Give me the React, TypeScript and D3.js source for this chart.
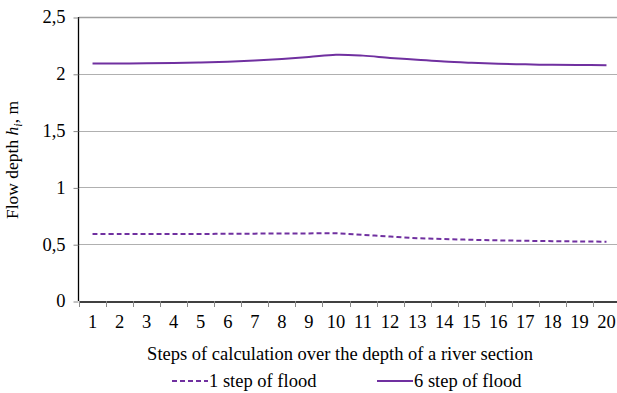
import React, { useEffect, useRef } from 'react';
import * as d3 from 'd3';

const steps = [1, 2, 3, 4, 5, 6, 7, 8, 9, 10, 11, 12, 13, 14, 15, 16, 17, 18, 19, 20];
const flood1 = [0.59, 0.59, 0.59, 0.59, 0.59, 0.592, 0.593, 0.594, 0.595, 0.596, 0.582, 0.567, 0.553, 0.545, 0.539, 0.534, 0.53, 0.527, 0.524, 0.522];
const flood6 = [2.09, 2.09, 2.092, 2.095, 2.1, 2.107, 2.117, 2.13, 2.147, 2.168, 2.16, 2.14, 2.124, 2.108, 2.097, 2.088, 2.083, 2.079, 2.077, 2.076];
const yTicks = [0, 0.5, 1, 1.5, 2, 2.5];

const W = 617;
const H = 393;
const margin = { top: 17, right: -3, bottom: 92, left: 79 };
const color = '#7030a0';
const font = "'Liberation Serif', 'DejaVu Serif', serif";
const fs = '18.5px';

export default function App() {
  const ref = useRef<SVGSVGElement>(null);

  useEffect(() => {
    const svg = d3.select(ref.current);
    svg.selectAll('*').remove();

    const x = d3.scaleBand<number>()
      .domain(steps)
      .range([margin.left, W - margin.right]);
    const y = d3.scaleLinear()
      .domain([0, 2.5])
      .range([H - margin.bottom, margin.top]);

    // gridlines
    svg.append('g')
      .selectAll('line')
      .data(yTicks.filter(d => d > 0))
      .join('line')
      .attr('x1', margin.left)
      .attr('x2', W)
      .attr('y1', d => Math.round(y(d)) + 0.5)
      .attr('y2', d => Math.round(y(d)) + 0.5)
      .attr('stroke', d => d === 2.5 ? '#a0a0a0' : '#b0b0b0')
      .attr('stroke-width', d => d === 2.5 ? 1.5 : 1);

    // y axis
    svg.append('g')
      .attr('transform', `translate(${margin.left - 0.5},0)`)
      .call(d3.axisLeft(y).tickValues(yTicks).tickSize(5).tickPadding(8)
        .tickFormat(d => String(d).replace('.', ',')))
      .call(g => g.selectAll('.tick line').attr('stroke', '#888').attr('transform', 'translate(0,0.5)'))
      .call(g => g.select('.domain').attr('stroke', '#000').attr('stroke-width', 1.3).attr('d', `M0,${y(0)}V${margin.top}`))
      .call(g => g.attr('font-family', null).attr('font-size', null))
      .call(g => g.selectAll('text').style('font-family', font).style('font-size', fs).attr('fill', '#000'));

    // x axis
    svg.append('g')
      .attr('transform', `translate(0,${Math.round(y(0)) + 0.5})`)
      .call(d3.axisBottom(x).tickSize(0).tickPadding(13))
      .call(g => g.select('.domain').attr('stroke', '#000').attr('stroke-width', 1.3))
      .call(g => g.attr('font-family', null).attr('font-size', null))
      .call(g => g.selectAll('text').style('font-family', font).style('font-size', fs).attr('fill', '#000'));

    // x band boundary ticks
    svg.append('g')
      .selectAll('line')
      .data(steps)
      .join('line')
      .attr('x1', d => Math.round(x(d)!) + 0.5)
      .attr('x2', d => Math.round(x(d)!) + 0.5)
      .attr('y1', y(0))
      .attr('y2', y(0) + 6)
      .attr('stroke', '#888');

    const mkLine = (vals: number[]) => d3.line<number>()
      .x((_, i) => x(steps[i])! + x.bandwidth() / 2)
      .y(d => y(d))
      .curve(d3.curveCatmullRom.alpha(0.5))(vals);

    svg.append('path')
      .attr('d', mkLine(flood1))
      .attr('fill', 'none')
      .attr('stroke', color)
      .attr('stroke-width', 2)
      .attr('stroke-dasharray', '5,3');

    svg.append('path')
      .attr('d', mkLine(flood6))
      .attr('fill', 'none')
      .attr('stroke', color)
      .attr('stroke-width', 2);

    // axis titles
    svg.append('text')
      .attr('x', 340)
      .attr('y', 360)
      .attr('text-anchor', 'middle')
      .style('font-family', font)
      .style('font-size', fs)
      .text('Steps of calculation over the depth of a river section');

    const yt = svg.append('text')
      .attr('transform', 'translate(18,160) rotate(-90)')
      .attr('text-anchor', 'middle')
      .style('font-family', font)
      .style('font-size', '17.5px');
    yt.append('tspan').text('Flow depth ');
    yt.append('tspan').attr('font-style', 'italic').text('h');
    yt.append('tspan').attr('font-style', 'italic').attr('font-size', 12).attr('dy', 4).text('i');
    yt.append('tspan').attr('dy', -4).text(', m');

    // legend
    const legend = [
      { label: '1 step of flood', dash: '5,3', x0: 172 },
      { label: '6 step of flood', dash: null, x0: 377 },
    ];
    const lg = svg.append('g');
    legend.forEach(l => {
      lg.append('line')
        .attr('x1', l.x0).attr('x2', l.x0 + 36)
        .attr('y1', 381).attr('y2', 381)
        .attr('stroke', color).attr('stroke-width', 2)
        .attr('stroke-dasharray', l.dash);
      lg.append('text')
        .attr('x', l.x0 + 37).attr('y', 387)
        .style('font-family', font).style('font-size', fs)
        .text(l.label);
    });
  }, []);

  return (
    <svg ref={ref} width={W} height={H} style={{ position: 'absolute', left: 0, top: 0, background: '#fff' }} />
  );
}
